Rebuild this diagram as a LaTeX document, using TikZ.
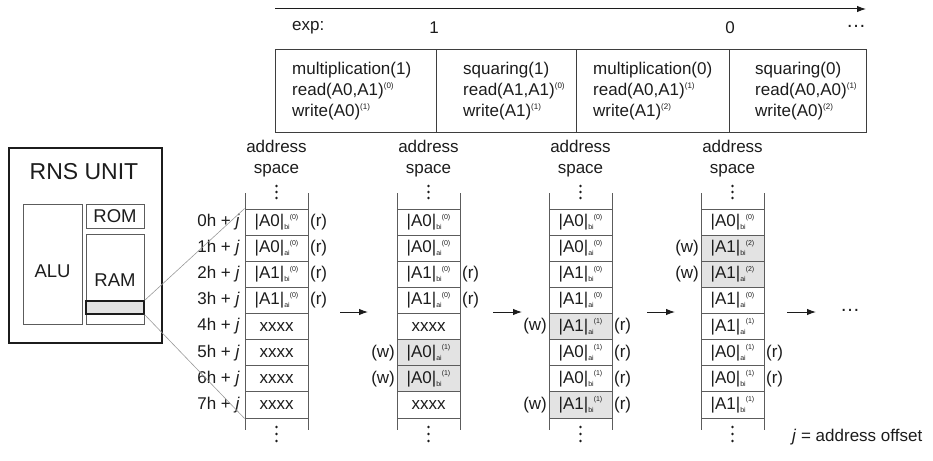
\documentclass[tikz,border=0pt]{standalone}
\usepackage{fontspec}
\setmainfont{Liberation Sans}
\usetikzlibrary{arrows.meta}

\definecolor{ink}{HTML}{1C1C1C}
\definecolor{rule}{HTML}{5C5C5C}
\definecolor{shade}{HTML}{E3E3E3}
\definecolor{thinline}{HTML}{9A9A9A}

\newcommand\txt{\fontsize{17}{21}\selectfont}
\newcommand\scr{\fontsize{7}{7}\selectfont}
% memory word |Ax|_{sub}^{(k)}
\newcommand\memval[3]{|#1|\raisebox{-3pt}{\scr #2}\raisebox{7.5pt}{\scr(#3)}}
% operation superscript
\newcommand\opsup[1]{\raisebox{7pt}{\fontsize{8}{8}\selectfont(#1)}}

% one memory cell: [style]{name}{x centre}{row}{content}
\newcommand\cellat[5][]{\node[cellbox,#1] (#2) at (#3,{209+(#4+0.5)*26.125}) {#5};}
\newcommand\rmark[1]{\node[anchor=west,inner sep=1.5pt] (#1r) at (#1.east) {(r)};}
\newcommand\wmark[1]{\node[anchor=east,inner sep=1.5pt] (#1w) at (#1.west) {(w)};}
% column frame: {prefix}{left x}
\newcommand\colframe[2]{%
  \draw[colline] (#2,193) -- (#2,430);
  \draw[colline] ({#2+63},193) -- ({#2+63},430);
  \node[align=center] (#1head) at ({#2+31.5},159) {address\\space};
  \foreach \dy in {186,192,198,427,434,441}
    \fill[ink] ({#2+31.5},\dy) circle (1.3pt);
}

\begin{document}
\begin{tikzpicture}[x=1pt,y=-1pt,font=\txt,
  every node/.style={text=ink},
  cellbox/.style={draw=rule,line width=0.9pt,minimum width=63pt,minimum height=26.125pt,inner sep=0pt},
  colline/.style={draw=rule,line width=0.9pt},
  opbox/.style={draw=ink!85,line width=1pt,minimum height=82pt,inner sep=0pt},
  unitbox/.style={draw=ink,line width=1.6pt,inner sep=0pt},
  partbox/.style={draw=rule,line width=1pt,inner sep=0pt},
  zoomline/.style={draw=thinline,line width=0.6pt},
  flow/.style={draw=ink,line width=1pt,-{Latex[length=9pt,width=6.5pt]}}]
\useasboundingbox (0,0) rectangle (933,460);

% ---- exponent axis ----
\coordinate (axs) at (275,9);
\coordinate (axe) at (866,9);
\draw[flow] (axs) -- (axe);
\node[anchor=west,inner sep=0pt] (exp) at (292,28) {exp:};
\node[inner sep=0pt] (e1) at (434,28) {1};
\node[inner sep=0pt] (e0) at (730,28) {0};
\node[inner sep=0pt] (emore) at (856,26) {\fontsize{20}{20}\selectfont …};

% ---- operation sequence ----
\node[opbox,minimum width=161pt] (op1) at (355.5,91) {};
\node[opbox,minimum width=140pt] (op2) at (506,91) {};
\node[opbox,minimum width=153pt] (op3) at (652.5,91) {};
\node[opbox,minimum width=137pt] (op4) at (797.5,91) {};
\node[anchor=west,align=left,inner sep=0pt] (op1t) at (292,91)
  {multiplication(1)\\read(A0,A1)\opsup{0}\\write(A0)\opsup{1}};
\node[anchor=west,align=left,inner sep=0pt] (op2t) at (463,91)
  {squaring(1)\\read(A1,A1)\opsup{0}\\write(A1)\opsup{1}};
\node[anchor=west,align=left,inner sep=0pt] (op3t) at (593,91)
  {multiplication(0)\\read(A0,A1)\opsup{1}\\write(A1)\opsup{2}};
\node[anchor=west,align=left,inner sep=0pt] (op4t) at (755,91)
  {squaring(0)\\read(A0,A0)\opsup{1}\\write(A0)\opsup{2}};

% ---- RNS unit ----
\node[unitbox,minimum width=153pt,minimum height=195pt] (unit) at (85.5,245.5) {};
\node[font=\fontsize{23}{23}\selectfont] (unitname) at (84,172) {RNS UNIT};
\node[partbox,minimum width=59pt,minimum height=120pt] (alu) at (52.5,264) {};
\node (alut) at (52.5,271) {\fontsize{18.5}{18.5}\selectfont ALU};
\node[partbox,minimum width=58pt,minimum height=24pt] (rom) at (115,216) {\fontsize{18.5}{18.5}\selectfont ROM};
\node[partbox,minimum width=58pt,minimum height=90pt] (ram) at (115,279) {};
\node (ramt) at (115,280) {\fontsize{18.5}{18.5}\selectfont RAM};
\node[draw=ink,line width=1.4pt,fill=shade,minimum width=58pt,minimum height=13pt,inner sep=0pt] (strip) at (115,307.5) {};

% ---- address offsets ----
\foreach \k in {0,...,7}
  \node[anchor=east,inner sep=0pt] (ofs\k) at (240,{209+(\k+0.5)*26.125}) {\k h + \textit{j}};

% ---- memory snapshots ----
\colframe{m1}{245}
\colframe{m2}{397}
\colframe{m3}{549}
\colframe{m4}{701}

% snapshot 1
\cellat{a0}{276.5}{0}{\memval{A0}{bi}{0}}
\cellat{a1}{276.5}{1}{\memval{A0}{ai}{0}}
\cellat{a2}{276.5}{2}{\memval{A1}{bi}{0}}
\cellat{a3}{276.5}{3}{\memval{A1}{ai}{0}}
\cellat{a4}{276.5}{4}{xxxx}
\cellat{a5}{276.5}{5}{xxxx}
\cellat{a6}{276.5}{6}{xxxx}
\cellat{a7}{276.5}{7}{xxxx}
\rmark{a0}\rmark{a1}\rmark{a2}\rmark{a3}

% snapshot 2
\cellat{b0}{428.5}{0}{\memval{A0}{bi}{0}}
\cellat{b1}{428.5}{1}{\memval{A0}{ai}{0}}
\cellat{b2}{428.5}{2}{\memval{A1}{bi}{0}}
\cellat{b3}{428.5}{3}{\memval{A1}{ai}{0}}
\cellat{b4}{428.5}{4}{xxxx}
\cellat[fill=shade]{b5}{428.5}{5}{\memval{A0}{ai}{1}}
\cellat[fill=shade]{b6}{428.5}{6}{\memval{A0}{bi}{1}}
\cellat{b7}{428.5}{7}{xxxx}
\rmark{b2}\rmark{b3}\wmark{b5}\wmark{b6}

% snapshot 3
\cellat{c0}{580.5}{0}{\memval{A0}{bi}{0}}
\cellat{c1}{580.5}{1}{\memval{A0}{ai}{0}}
\cellat{c2}{580.5}{2}{\memval{A1}{bi}{0}}
\cellat{c3}{580.5}{3}{\memval{A1}{ai}{0}}
\cellat[fill=shade]{c4}{580.5}{4}{\memval{A1}{ai}{1}}
\cellat{c5}{580.5}{5}{\memval{A0}{ai}{1}}
\cellat{c6}{580.5}{6}{\memval{A0}{bi}{1}}
\cellat[fill=shade]{c7}{580.5}{7}{\memval{A1}{bi}{1}}
\wmark{c4}\wmark{c7}\rmark{c4}\rmark{c5}\rmark{c6}\rmark{c7}

% snapshot 4
\cellat{d0}{732.5}{0}{\memval{A0}{bi}{0}}
\cellat[fill=shade]{d1}{732.5}{1}{\memval{A1}{bi}{2}}
\cellat[fill=shade]{d2}{732.5}{2}{\memval{A1}{ai}{2}}
\cellat{d3}{732.5}{3}{\memval{A1}{ai}{0}}
\cellat{d4}{732.5}{4}{\memval{A1}{ai}{1}}
\cellat{d5}{732.5}{5}{\memval{A0}{ai}{1}}
\cellat{d6}{732.5}{6}{\memval{A0}{bi}{1}}
\cellat{d7}{732.5}{7}{\memval{A1}{bi}{1}}
\wmark{d1}\wmark{d2}\rmark{d5}\rmark{d6}

% ---- RAM detail lines ----
\draw[zoomline] (strip.north east) -- (a0.north west);
\draw[zoomline] (strip.south east) -- (a7.south west);

% ---- transitions ----
\coordinate (t1s) at (340,312); \coordinate (t1e) at (368,312);
\coordinate (t2s) at (493,312); \coordinate (t2e) at (522,312);
\coordinate (t3s) at (647,312); \coordinate (t3e) at (675,312);
\coordinate (t4s) at (787,312); \coordinate (t4e) at (816,312);
\draw[flow] (t1s) -- (t1e);
\draw[flow] (t2s) -- (t2e);
\draw[flow] (t3s) -- (t3e);
\draw[flow] (t4s) -- (t4e);
\node[inner sep=0pt] (more) at (850,310) {\fontsize{20}{20}\selectfont …};

\node[anchor=west,inner sep=0pt] (legend) at (792,437) {\textit{j} = address offset};
\end{tikzpicture}
\end{document}
